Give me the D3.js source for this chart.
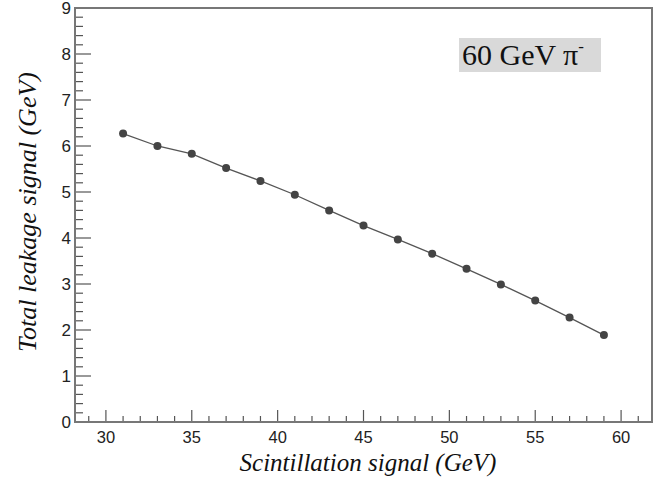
<!DOCTYPE html>
<html>
<head>
<meta charset="utf-8">
<script src="https://cdn.jsdelivr.net/npm/d3@7"></script>
<style>
  body { margin: 0; background: #fff; }
  svg { display: block; }
</style>
</head>
<body>
<script>
// scintillation signal (GeV) vs total leakage signal (GeV)
var scint = [31, 33, 35, 37, 39, 41, 43, 45, 47, 49, 51, 53, 55, 57, 59];
var leakage = [6.27, 6.00, 5.83, 5.52, 5.24, 4.94, 4.60, 4.27, 3.97, 3.66, 3.33, 2.99, 2.64, 2.27, 1.89];
var xTicks = [30, 35, 40, 45, 50, 55, 60];
var yTicks = [0, 1, 2, 3, 4, 5, 6, 7, 8, 9];
var labelText = '60 GeV \u03c0';

var W = 668, H = 479;
// note: "top" is taken by window.top, so frame edges get their own names
var frameL = 75, frameR = 652, frameT = 8, frameB = 422;

var svg = d3.select('body').append('svg').attr('width', W).attr('height', H);

var x = d3.scaleLinear().domain([28.2, 61.8]).range([frameL, frameR]);
var y = d3.scaleLinear().domain([0, 9]).range([frameB, frameT]);

var axisColor = '#777';

// minor ticks
var xMinor = d3.range(29, 62, 1).filter(function(v) { return v % 5 != 0; });
var yMinor = d3.range(0, 45).map(function(i) { return i / 5; }).filter(function(v, i) { return i % 5 != 0; });

var g = svg.append('g');

g.selectAll('.xminor').data(xMinor).enter().append('line')
  .attr('x1', function(d) { return x(d); }).attr('x2', function(d) { return x(d); })
  .attr('y1', frameB).attr('y2', frameB - 6)
  .attr('stroke', '#555').attr('stroke-width', 1.2);
g.selectAll('.xmajor').data(xTicks).enter().append('line')
  .attr('x1', function(d) { return x(d); }).attr('x2', function(d) { return x(d); })
  .attr('y1', frameB).attr('y2', frameB - 12)
  .attr('stroke', '#555').attr('stroke-width', 1.2);
g.selectAll('.yminor').data(yMinor).enter().append('line')
  .attr('y1', function(d) { return y(d); }).attr('y2', function(d) { return y(d); })
  .attr('x1', frameL).attr('x2', frameL + 8)
  .attr('stroke', '#555').attr('stroke-width', 1.2);
g.selectAll('.ymajor').data(yTicks).enter().append('line')
  .attr('y1', function(d) { return y(d); }).attr('y2', function(d) { return y(d); })
  .attr('x1', frameL).attr('x2', frameL + 16)
  .attr('stroke', '#555').attr('stroke-width', 1.2);

// frame
svg.append('rect')
  .attr('x', frameL).attr('y', frameT)
  .attr('width', frameR - frameL).attr('height', frameB - frameT)
  .attr('fill', 'none').attr('stroke', axisColor).attr('stroke-width', 2);

// tick labels
svg.selectAll('.xlab').data(xTicks).enter().append('text')
  .attr('x', function(d) { return x(d); }).attr('y', frameB + 21)
  .attr('text-anchor', 'middle')
  .attr('font-family', 'Liberation Sans, Arial, sans-serif').attr('font-size', 16.5)
  .attr('fill', '#222')
  .text(function(d) { return d; });
svg.selectAll('.ylab').data(yTicks).enter().append('text')
  .attr('x', frameL - 4).attr('y', function(d) { return y(d) + 6; })
  .attr('text-anchor', 'end')
  .attr('font-family', 'Liberation Sans, Arial, sans-serif').attr('font-size', 17)
  .attr('fill', '#222')
  .text(function(d) { return d; });

// axis titles
svg.append('text')
  .attr('x', 368).attr('y', 471)
  .attr('text-anchor', 'middle')
  .attr('font-family', 'Liberation Serif, Times New Roman, serif')
  .attr('font-style', 'italic').attr('font-size', 25).attr('fill', '#111')
  .text('Scintillation signal (GeV)');
svg.append('text')
  .attr('transform', 'translate(36,212) rotate(-90)')
  .attr('text-anchor', 'middle')
  .attr('font-family', 'Liberation Serif, Times New Roman, serif')
  .attr('font-style', 'italic').attr('font-size', 26).attr('fill', '#111')
  .text('Total leakage signal (GeV)');

// data line + markers
var pts = scint.map(function(d, i) { return [d, leakage[i]]; });
var line = d3.line()
  .x(function(d) { return x(d[0]); })
  .y(function(d) { return y(d[1]); });
svg.append('path').datum(pts)
  .attr('d', line).attr('fill', 'none')
  .attr('stroke', '#555').attr('stroke-width', 1.3);
svg.selectAll('.pt').data(pts).enter().append('circle')
  .attr('cx', function(d) { return x(d[0]); })
  .attr('cy', function(d) { return y(d[1]); })
  .attr('r', 4).attr('fill', '#444');

// label box
svg.append('rect')
  .attr('x', 459).attr('y', 38).attr('width', 142).attr('height', 34)
  .attr('fill', '#d9d9d9');
var lbl = svg.append('text')
  .attr('x', 462).attr('y', 65)
  .attr('font-family', 'Liberation Serif, Times New Roman, serif')
  .attr('font-size', 30).attr('fill', '#111')
  .text(labelText);
lbl.append('tspan').attr('dy', -13).attr('font-size', 17).text('-');
</script>
</body>
</html>
